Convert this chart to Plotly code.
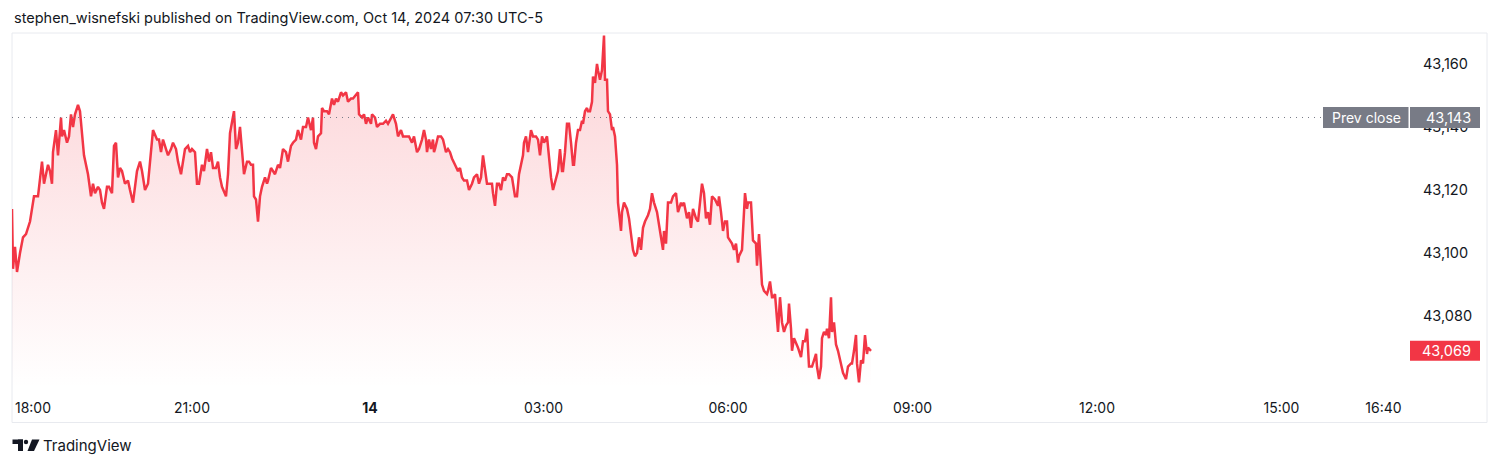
import plotly.graph_objects as go

# ---- data (bar index, price) ----
BAR = [0, 1, 3, 5, 8, 10, 11, 14, 16, 18, 20, 22, 26, 28, 30, 32, 35, 36, 38, 40, 41, 44, 46, 49, 50, 52, 55, 57, 59, 61,
       63, 66, 68, 70, 72, 76, 79, 81, 83, 86, 88, 90, 92, 95, 97, 100, 102, 104, 106, 108, 110, 113, 116, 118, 121, 125,
       128, 130, 133, 136, 139, 141, 145, 147, 149, 151, 154, 156, 159, 161, 164, 166, 169, 171, 173, 176, 178, 180, 183,
       185, 187, 190, 192, 195, 197, 199, 201, 204, 206, 208, 210, 214, 216, 218, 220, 222, 224, 226, 228, 230, 232, 235,
       237, 239, 241, 242, 244, 246, 248, 250, 253, 255, 256, 259, 261, 263, 266, 268, 271, 274, 276, 279, 281, 284, 286,
       289, 291, 294, 296, 299, 301, 302, 304, 306, 309, 310, 312, 315, 317, 320, 322, 324, 326, 329, 331, 334, 336, 339,
       341, 344, 346, 347, 350, 352, 354, 356, 359, 360, 363, 365, 368, 371, 374, 376, 379, 381, 384, 386, 389, 391, 394,
       397, 400, 402, 405, 407, 410, 412, 414, 415, 417, 419, 421, 422, 423, 426, 429, 431, 434, 436, 438, 440, 443, 446,
       448, 450, 452, 455, 457, 460, 462, 465, 467, 469, 471, 473, 475, 477, 480, 481, 483, 485, 487, 489, 491, 493, 495,
       497, 500, 501, 503, 505, 507, 509, 511, 512, 514, 516, 519, 521, 524, 526, 528, 530, 532, 535, 537, 539, 541, 544,
       546, 548, 550, 551, 553, 555, 557, 559, 561, 562, 564, 566, 568, 570, 571, 573, 575, 576, 578, 580, 581, 583, 585,
       586, 588, 590, 591, 592, 593, 595, 596, 598, 600, 601, 603, 605, 606, 609, 610, 612, 615, 617, 619, 621, 623, 625,
       627, 629, 631, 633, 636, 638, 640, 642, 645, 647, 649, 651, 652, 654, 656, 659, 661, 664, 666, 669, 670, 672, 675,
       677, 679, 681, 684, 686, 688, 690, 692, 694, 696, 698, 700, 703, 706, 707, 709, 711, 713, 715, 716, 718, 720, 722,
       724, 726, 727, 730, 731, 733, 735, 736, 739, 741, 744, 745, 747, 749, 750, 752, 755, 756, 758, 760, 761, 763, 765,
       766, 768, 770, 772, 774, 776, 777, 779, 780, 782, 785, 786, 789, 791, 793, 795, 797, 800, 802, 804, 805, 807, 809,
       810, 812, 814, 815, 817, 819, 820, 822, 824, 826, 829, 831, 834, 836, 839, 840, 842, 844, 845, 847, 849, 851, 853,
       855, 856, 859]
PRICE = [43114, 43095, 43102, 43094, 43100, 43103, 43105, 43106, 43108, 43110, 43114, 43118, 43118, 43123, 43129, 43122,
         43127, 43128, 43126, 43122, 43132, 43139, 43131, 43143, 43137, 43139, 43135, 43137, 43144, 43140, 43144, 43147,
         43145, 43138, 43131, 43125, 43118, 43122, 43119, 43121, 43120, 43116, 43114, 43121, 43121, 43119, 43134, 43135,
         43124, 43127, 43126, 43122, 43123, 43120, 43116, 43126, 43129, 43126, 43120, 43122, 43133, 43139, 43136, 43136,
         43132, 43136, 43133, 43131, 43133, 43135, 43133, 43129, 43125, 43129, 43133, 43134, 43132, 43133, 43132, 43122,
         43122, 43128, 43126, 43133, 43129, 43132, 43127, 43127, 43129, 43124, 43121, 43118, 43125, 43138, 43141, 43145,
         43133, 43135, 43140, 43133, 43125, 43129, 43129, 43128, 43128, 43118, 43117, 43110, 43118, 43121, 43124, 43122,
         43123, 43127, 43126, 43125, 43128, 43127, 43133, 43132, 43129, 43134, 43135, 43136, 43139, 43136, 43140, 43140,
         43143, 43139, 43143, 43135, 43133, 43137, 43138, 43146, 43145, 43145, 43144, 43149, 43147, 43149, 43148, 43151,
         43150, 43151, 43148, 43149, 43149, 43150, 43151, 43144, 43143, 43144, 43141, 43143, 43141, 43144, 43143, 43140,
         43141, 43141, 43142, 43141, 43143, 43144, 43141, 43137, 43139, 43137, 43137, 43137, 43135, 43137, 43132, 43133,
         43136, 43139, 43136, 43132, 43136, 43133, 43136, 43132, 43133, 43137, 43137, 43136, 43132, 43133, 43132, 43130,
         43128, 43126, 43127, 43124, 43123, 43123, 43120, 43122, 43124, 43125, 43122, 43124, 43131, 43127, 43122, 43122,
         43122, 43119, 43115, 43122, 43122, 43120, 43124, 43123, 43125, 43125, 43124, 43122, 43118, 43118, 43125, 43128,
         43131, 43135, 43137, 43132, 43139, 43137, 43137, 43136, 43131, 43137, 43135, 43137, 43130, 43124, 43120, 43124,
         43126, 43133, 43126, 43126, 43132, 43141, 43141, 43135, 43128, 43128, 43135, 43139, 43139, 43142, 43141, 43145,
         43146, 43145, 43145, 43148, 43156, 43154, 43160, 43158, 43155, 43158, 43166, 43169, 43155, 43155, 43145, 43144,
         43139, 43140, 43137, 43128, 43116, 43107, 43113, 43116, 43114, 43111, 43106, 43101, 43099, 43100, 43105, 43101,
         43108, 43110, 43112, 43114, 43119, 43116, 43113, 43109, 43104, 43101, 43107, 43103, 43116, 43116, 43118, 43119,
         43113, 43116, 43115, 43116, 43111, 43113, 43108, 43114, 43111, 43110, 43116, 43122, 43119, 43111, 43113, 43109,
         43118, 43117, 43115, 43118, 43113, 43107, 43110, 43110, 43105, 43104, 43103, 43101, 43103, 43097, 43099, 43101,
         43108, 43119, 43114, 43116, 43116, 43104, 43103, 43096, 43106, 43095, 43090, 43088, 43087, 43088, 43091, 43086,
         43086, 43087, 43078, 43075, 43086, 43078, 43075, 43077, 43078, 43084, 43076, 43069, 43073, 43071, 43070, 43067,
         43072, 43072, 43076, 43064, 43064, 43066, 43068, 43064, 43060, 43064, 43073, 43075, 43074, 43076, 43073, 43086,
         43075, 43078, 43071, 43069, 43065, 43062, 43060, 43064, 43065, 43065, 43069, 43074, 43065, 43059, 43066, 43065,
         43074, 43068, 43070, 43069]

PREV_CLOSE = 43143
PRICE_TICKS = [43080, 43100, 43120, 43140, 43160]
TIME_TICK_POS = [21, 180, 358, 531.5, 716, 900.5, 1085, 1269.5, 1371.5]
TIME_TICK_TEXT = ["18:00", "21:00", "<b>14</b>", "03:00", "06:00", "09:00", "12:00", "15:00", "16:40"]

TITLE = "stephen_wisnefski published on TradingView.com, Oct 14, 2024 07:30 UTC-5"

# ---- layout geometry (pixels) ----
W, H = 1500, 465
PANE_L, PANE_R, PANE_T, PANE_B = 12, 1409, 33, 388
X_RANGE = [0, 1397]
Y_RANGE = [43057.2, 43169.8]
FONT = "Inter, Roboto, sans-serif"
TXT = "#131722"
RED = "#f23645"
GRAY = "#787b86"


def px(xp):
    return (xp - PANE_L) / (PANE_R - PANE_L)


def py(yp):
    return (PANE_B - yp) / (PANE_B - PANE_T)


units_per_px = (Y_RANGE[1] - Y_RANGE[0]) / (PANE_B - PANE_T)
last = PRICE[-1]

fig = go.Figure()
fig.add_trace(go.Scatter(
    x=BAR, y=PRICE, mode="lines",
    line=dict(color=RED, width=2.5),
    fill="tozeroy",
    fillgradient=dict(type="vertical",
                      colorscale=[[0, "rgba(242,54,69,0.0)"], [1, "rgba(242,54,69,0.22)"]],
                      start=Y_RANGE[0], stop=max(PRICE)),
    hoverinfo="skip", showlegend=False,
))

shapes = [
    # outer frame
    dict(type="rect", xref="paper", yref="paper", x0=px(12), x1=px(1487), y0=py(422.5), y1=py(33),
         line=dict(color="#e8eaef", width=1), fillcolor="rgba(0,0,0,0)", layer="below"),
    # prev close dotted line
    dict(type="line", xref="paper", yref="y", x0=0, x1=px(1323), y0=PREV_CLOSE, y1=PREV_CLOSE,
         line=dict(color=GRAY, width=1, dash="1px,5px"), layer="above"),
    # prev close label boxes
    dict(type="rect", xref="paper", yref="y", x0=px(1323), x1=px(1408.5),
         y0=PREV_CLOSE - 10.5 * units_per_px, y1=PREV_CLOSE + 10.5 * units_per_px,
         line=dict(width=0), fillcolor=GRAY, layer="above"),
    dict(type="rect", xref="paper", yref="y", x0=px(1410), x1=px(1480),
         y0=PREV_CLOSE - 10.5 * units_per_px, y1=PREV_CLOSE + 10.5 * units_per_px,
         line=dict(width=0), fillcolor=GRAY, layer="above"),
    # last price box
    dict(type="rect", xref="paper", yref="y", x0=px(1410), x1=px(1480),
         y0=last - 10 * units_per_px, y1=last + 10 * units_per_px,
         line=dict(width=0), fillcolor=RED, layer="above"),
    # TradingView logo (approximate)
    dict(type="rect", xref="paper", yref="paper", x0=px(12.5), x1=px(23), y0=py(444), y1=py(439.5),
         line=dict(width=0), fillcolor=TXT),
    dict(type="rect", xref="paper", yref="paper", x0=px(18), x1=px(23), y0=py(451), y1=py(439.5),
         line=dict(width=0), fillcolor=TXT),
    dict(type="circle", xref="paper", yref="paper", x0=px(23.8), x1=px(28.2), y0=py(444.2), y1=py(439.8),
         line=dict(width=0), fillcolor=TXT),
    dict(type="path", xref="paper", yref="paper",
         path=f"M {px(32)} {py(439.5)} L {px(39.5)} {py(439.5)} L {px(34)} {py(451)} L {px(27.5)} {py(451)} Z",
         line=dict(width=0), fillcolor=TXT),
]

annotations = [
    dict(text=TITLE, xref="paper", yref="paper", x=px(12), y=py(18), xanchor="left", yanchor="middle",
         showarrow=False, font=dict(family=FONT, size=14.5, color=TXT)),
    dict(text="TradingView", xref="paper", yref="paper", x=px(41), y=py(445), xanchor="left", yanchor="middle",
         showarrow=False, font=dict(family=FONT, size=15, color=TXT)),
    dict(text="Prev close", xref="paper", yref="y", x=px(1366), y=PREV_CLOSE, xanchor="center", yanchor="middle",
         showarrow=False, font=dict(family=FONT, size=14, color="white")),
    dict(text=f"{PREV_CLOSE:,}", xref="paper", yref="y", x=px(1473), y=PREV_CLOSE, xanchor="right",
         yanchor="middle", showarrow=False, font=dict(family=FONT, size=14.5, color="white")),
    dict(text=f"{last:,}", xref="paper", yref="y", x=px(1473), y=last, xanchor="right",
         yanchor="middle", showarrow=False, font=dict(family=FONT, size=14.5, color="white")),
]

fig.update_layout(
    width=W, height=H,
    margin=dict(l=PANE_L, r=W - PANE_R, t=PANE_T, b=H - PANE_B, pad=0),
    paper_bgcolor="white", plot_bgcolor="white",
    shapes=shapes, annotations=annotations,
    showlegend=False,
    xaxis=dict(range=X_RANGE, tickmode="array", tickvals=TIME_TICK_POS, ticktext=TIME_TICK_TEXT,
               showgrid=False, zeroline=False, showline=False, ticks="", ticklabelstandoff=10,
               tickfont=dict(family=FONT, size=14, color=TXT), fixedrange=True),
    yaxis=dict(range=Y_RANGE, side="right", tickmode="array", tickvals=PRICE_TICKS, tickformat=",",
               showgrid=False, zeroline=False, showline=False, ticks="", ticklabelstandoff=13,
               tickfont=dict(family=FONT, size=14.5, color=TXT), fixedrange=True),
)

fig.write_html("out.html", config={"displayModeBar": False},
               post_script="document.body.style.margin='0';")
